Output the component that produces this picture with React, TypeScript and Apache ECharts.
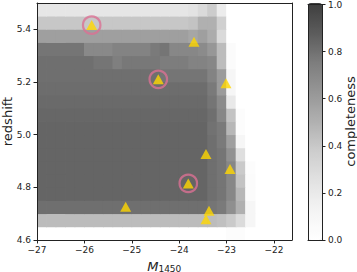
import React, { useEffect, useRef } from 'react';
import * as echarts from 'echarts';

// Bin left edges (M1450) and lower edges (redshift)
const magLeftEdges = [-27.0, -26.8, -26.6, -26.4, -26.2, -26.0, -25.8, -25.6, -25.4, -25.2, -25.0, -24.8, -24.6, -24.4, -24.2, -24.0, -23.8, -23.6, -23.4, -23.2, -23.0, -22.8, -22.6];
const zLowEdges = [4.60, 4.65, 4.70, 4.75, 4.80, 4.85, 4.90, 4.95, 5.00, 5.05, 5.10, 5.15, 5.20, 5.25, 5.30, 5.35, 5.40, 5.45];
const magBinWidth = 0.2;
const zBinWidth = 0.05;

// completeness per redshift row (bottom -> top), per M1450 column
const completeness: number[][] = [
  [0, 0, 0, 0, 0, 0, 0, 0, 0, 0, 0, 0, 0, 0, 0, 0, 0, 0, 0, 0, 0.03, 0.03, 0],
  [0.45, 0.45, 0.45, 0.45, 0.45, 0.45, 0.45, 0.45, 0.45, 0.45, 0.45, 0.45, 0.45, 0.45, 0.45, 0.45, 0.45, 0.45, 0.45, 0.43, 0.39, 0.29, 0.1],
  [0.8, 0.8, 0.8, 0.8, 0.8, 0.8, 0.8, 0.8, 0.8, 0.8, 0.8, 0.8, 0.8, 0.8, 0.8, 0.8, 0.8, 0.8, 0.78, 0.76, 0.66, 0.5, 0.1],
  [0.84, 0.84, 0.84, 0.84, 0.84, 0.84, 0.84, 0.84, 0.84, 0.84, 0.84, 0.84, 0.84, 0.84, 0.84, 0.84, 0.84, 0.84, 0.8, 0.78, 0.7, 0.47, 0.04],
  [0.84, 0.84, 0.84, 0.84, 0.84, 0.84, 0.84, 0.84, 0.84, 0.84, 0.84, 0.84, 0.84, 0.84, 0.84, 0.84, 0.84, 0.84, 0.8, 0.78, 0.7, 0.42, 0.04],
  [0.84, 0.84, 0.84, 0.84, 0.84, 0.84, 0.84, 0.84, 0.84, 0.84, 0.84, 0.84, 0.84, 0.84, 0.84, 0.84, 0.84, 0.84, 0.8, 0.78, 0.7, 0.39, 0.03],
  [0.84, 0.84, 0.84, 0.84, 0.84, 0.84, 0.84, 0.84, 0.84, 0.84, 0.84, 0.84, 0.84, 0.84, 0.84, 0.84, 0.84, 0.84, 0.8, 0.78, 0.65, 0.27, 0],
  [0.84, 0.84, 0.84, 0.84, 0.84, 0.84, 0.84, 0.84, 0.84, 0.84, 0.84, 0.84, 0.84, 0.84, 0.84, 0.84, 0.84, 0.84, 0.8, 0.76, 0.58, 0.1, 0],
  [0.84, 0.84, 0.84, 0.84, 0.84, 0.84, 0.84, 0.84, 0.84, 0.84, 0.84, 0.84, 0.84, 0.84, 0.84, 0.84, 0.84, 0.84, 0.79, 0.76, 0.47, 0.03, 0],
  [0.83, 0.83, 0.83, 0.83, 0.83, 0.83, 0.83, 0.83, 0.83, 0.83, 0.83, 0.83, 0.83, 0.83, 0.83, 0.83, 0.83, 0.83, 0.8, 0.7, 0.42, 0.03, 0],
  [0.82, 0.82, 0.82, 0.82, 0.82, 0.82, 0.82, 0.82, 0.82, 0.82, 0.82, 0.82, 0.82, 0.82, 0.82, 0.82, 0.82, 0.82, 0.78, 0.68, 0.2, 0, 0],
  [0.81, 0.81, 0.81, 0.81, 0.81, 0.81, 0.81, 0.81, 0.81, 0.81, 0.81, 0.81, 0.81, 0.81, 0.81, 0.81, 0.81, 0.81, 0.76, 0.6, 0.1, 0, 0],
  [0.8, 0.8, 0.8, 0.8, 0.8, 0.8, 0.8, 0.8, 0.8, 0.8, 0.8, 0.8, 0.8, 0.78, 0.78, 0.78, 0.78, 0.78, 0.72, 0.6, 0.1, 0, 0],
  [0.8, 0.8, 0.8, 0.8, 0.8, 0.8, 0.78, 0.78, 0.74, 0.77, 0.77, 0.77, 0.77, 0.75, 0.75, 0.75, 0.72, 0.72, 0.7, 0.45, 0.04, 0, 0],
  [0.78, 0.78, 0.78, 0.78, 0.78, 0.69, 0.69, 0.69, 0.72, 0.72, 0.72, 0.72, 0.76, 0.78, 0.7, 0.7, 0.7, 0.68, 0.62, 0.45, 0.04, 0, 0],
  [0.58, 0.58, 0.58, 0.58, 0.58, 0.58, 0.58, 0.58, 0.58, 0.58, 0.58, 0.58, 0.58, 0.58, 0.58, 0.58, 0.55, 0.58, 0.52, 0.3, 0, 0, 0],
  [0.4, 0.4, 0.4, 0.4, 0.4, 0.4, 0.4, 0.4, 0.4, 0.4, 0.4, 0.4, 0.4, 0.4, 0.4, 0.4, 0.42, 0.5, 0.5, 0.36, 0, 0, 0],
  [0.22, 0.22, 0.22, 0.22, 0.22, 0.22, 0.22, 0.22, 0.22, 0.22, 0.22, 0.22, 0.22, 0.22, 0.22, 0.22, 0.24, 0.3, 0.38, 0.18, 0, 0, 0],
];

// Quasars (triangles)
const quasarM = [-25.846, -24.441, -23.688, -23.013, -23.435, -22.928, -23.808, -23.371, -23.435, -25.129];
const quasarZ = [5.416, 5.21, 5.353, 5.195, 4.927, 4.87, 4.815, 4.711, 4.679, 4.726];
// Circled quasars
const circledM = [-25.846, -24.441, -23.808];
const circledZ = [5.416, 5.21, 4.815];

const xTicks = [-27, -26, -25, -24, -23, -22];
const yTicks = [4.6, 4.8, 5.0, 5.2, 5.4];
const cbTicks = [0, 0.2, 0.4, 0.6, 0.8, 1.0];

const xMin = -27, xMax = -21.62, yMin = 4.6, yMax = 5.5;

// Greys colormap with alpha 0.75 over white
const greyStops = ['#ffffff', '#f4f4f4', '#e2e2e2', '#cdcdcd', '#b0b0b0', '#969696', '#7d7d7d', '#5b5b5b', '#3e3e3e'];

const FONT = 'DejaVu Sans';
const TXT = '#222';

export default function App() {
  const ref = useRef<HTMLDivElement>(null);
  useEffect(() => {
    if (!ref.current) return;
    const chart = echarts.init(ref.current, null, { renderer: 'svg' });
    const cells: number[][] = [];
    completeness.forEach((row, i) => {
      row.forEach((v, j) => {
        cells.push([magLeftEdges[j], zLowEdges[i], v]);
      });
    });
    const minus = (v: number) => String(v).replace('-', '\u2212');
    const G = { left: 37, top: 3, width: 255, height: 237 };
    const CB = { left: 308, top: 3, width: 14, height: 237 };
    const lineStyle = { color: TXT, width: 1 };
    const labelBase = { color: TXT, fontFamily: FONT, fontSize: 9 };
    const option: any = {
      animation: false,
      grid: [
        { ...G, containLabel: false },
        { ...CB, containLabel: false },
      ],
      xAxis: [
        {
          gridIndex: 0, type: 'value', min: xMin, max: xMax, interval: 1, z: 10,
          axisLine: { show: true, onZero: false, lineStyle },
          axisTick: { show: true, length: 3.5, lineStyle, customValues: xTicks },
          axisLabel: { ...labelBase, margin: 5, customValues: xTicks, formatter: (v: number) => minus(v) },
          splitLine: { show: false },
        },
        {
          gridIndex: 0, type: 'value', position: 'top', min: xMin, max: xMax, z: 10,
          axisLine: { show: true, onZero: false, lineStyle },
          axisTick: { show: false }, axisLabel: { show: false }, splitLine: { show: false },
        },
        {
          gridIndex: 1, type: 'value', min: 0, max: 1, z: 10,
          axisLine: { show: true, onZero: false, lineStyle },
          axisTick: { show: false }, axisLabel: { show: false }, splitLine: { show: false },
        },
        {
          gridIndex: 1, type: 'value', position: 'top', min: 0, max: 1, z: 10,
          axisLine: { show: true, onZero: false, lineStyle },
          axisTick: { show: false }, axisLabel: { show: false }, splitLine: { show: false },
        },
      ],
      yAxis: [
        {
          gridIndex: 0, type: 'value', min: yMin, max: yMax, interval: 0.2, z: 10,
          axisLine: { show: true, onZero: false, lineStyle },
          axisTick: { show: true, length: 3.5, lineStyle, customValues: yTicks },
          axisLabel: { ...labelBase, margin: 6, customValues: yTicks, formatter: (v: number) => v.toFixed(1) },
          splitLine: { show: false },
        },
        {
          gridIndex: 0, type: 'value', position: 'right', min: yMin, max: yMax, z: 10,
          axisLine: { show: true, onZero: false, lineStyle },
          axisTick: { show: false }, axisLabel: { show: false }, splitLine: { show: false },
        },
        {
          gridIndex: 1, type: 'value', position: 'right', min: 0, max: 1, interval: 0.2, z: 10,
          axisLine: { show: true, onZero: false, lineStyle },
          axisTick: { show: true, length: 3.5, lineStyle, customValues: cbTicks },
          axisLabel: { ...labelBase, margin: 6, customValues: cbTicks, formatter: (v: number) => v.toFixed(1) },
          splitLine: { show: false },
        },
        {
          gridIndex: 1, type: 'value', position: 'left', min: 0, max: 1, z: 10,
          axisLine: { show: true, onZero: false, lineStyle },
          axisTick: { show: false }, axisLabel: { show: false }, splitLine: { show: false },
        },
      ],
      visualMap: {
        type: 'continuous', min: 0, max: 1, dimension: 2, seriesIndex: 0,
        calculable: false, hoverLink: false, realtime: false,
        left: CB.left, top: CB.top, itemWidth: CB.width, itemHeight: CB.height,
        padding: 0, text: null, showLabel: false,
        inRange: { color: greyStops },
      },
      series: [
        {
          type: 'custom', xAxisIndex: 0, yAxisIndex: 0, clip: true,
          data: cells,
          renderItem: (params: any, api: any) => {
            const x = api.value(0), y = api.value(1);
            const p0 = api.coord([x, y + zBinWidth]);
            const p1 = api.coord([x + magBinWidth, y]);
            const c = api.visual('color');
            // slight overlap to avoid anti-aliasing seams between cells
            return {
              type: 'rect',
              shape: { x: p0[0] - 0.4, y: p0[1] - 0.4, width: p1[0] - p0[0] + 0.8, height: p1[1] - p0[1] + 0.8 },
              style: { fill: c, stroke: null, lineWidth: 0 },
            };
          },
        },
        {
          type: 'scatter', xAxisIndex: 0, yAxisIndex: 0,
          data: circledM.map((m, i) => [m, circledZ[i]]),
          symbol: 'circle', symbolSize: 17.5,
          itemStyle: { color: 'transparent', borderColor: '#DB7093', borderWidth: 2.2 },
          z: 3,
        },
        {
          type: 'scatter', xAxisIndex: 0, yAxisIndex: 0,
          data: quasarM.map((m, i) => [m, quasarZ[i]]),
          symbol: 'triangle', symbolSize: [11, 10],
          itemStyle: { color: '#FFD700' },
          z: 4,
        },
      ],
      graphic: [
        { type: 'text', x: 7, y: 121.5, rotation: Math.PI / 2,
          style: { text: 'redshift', font: `13px "${FONT}"`, fill: TXT, align: 'center', verticalAlign: 'middle' } },
        { type: 'text', x: 158.4, y: 266,
          style: { text: 'M', font: `italic 13px "${FONT}"`, fill: TXT, align: 'right', verticalAlign: 'middle' } },
        { type: 'text', x: 158.4, y: 268.5,
          style: { text: '1450', font: `9px "${FONT}"`, fill: TXT, align: 'left', verticalAlign: 'middle' } },
        { type: 'text', x: 350.5, y: 121.5, rotation: Math.PI / 2,
          style: { text: 'completeness', font: `13px "${FONT}"`, fill: TXT, align: 'center', verticalAlign: 'middle' } },
      ],
    };
    chart.setOption(option);
    return () => chart.dispose();
  }, []);
  return <div ref={ref} style={{ width: 357, height: 272, position: 'absolute', left: 0, top: 0 }} />;
}
